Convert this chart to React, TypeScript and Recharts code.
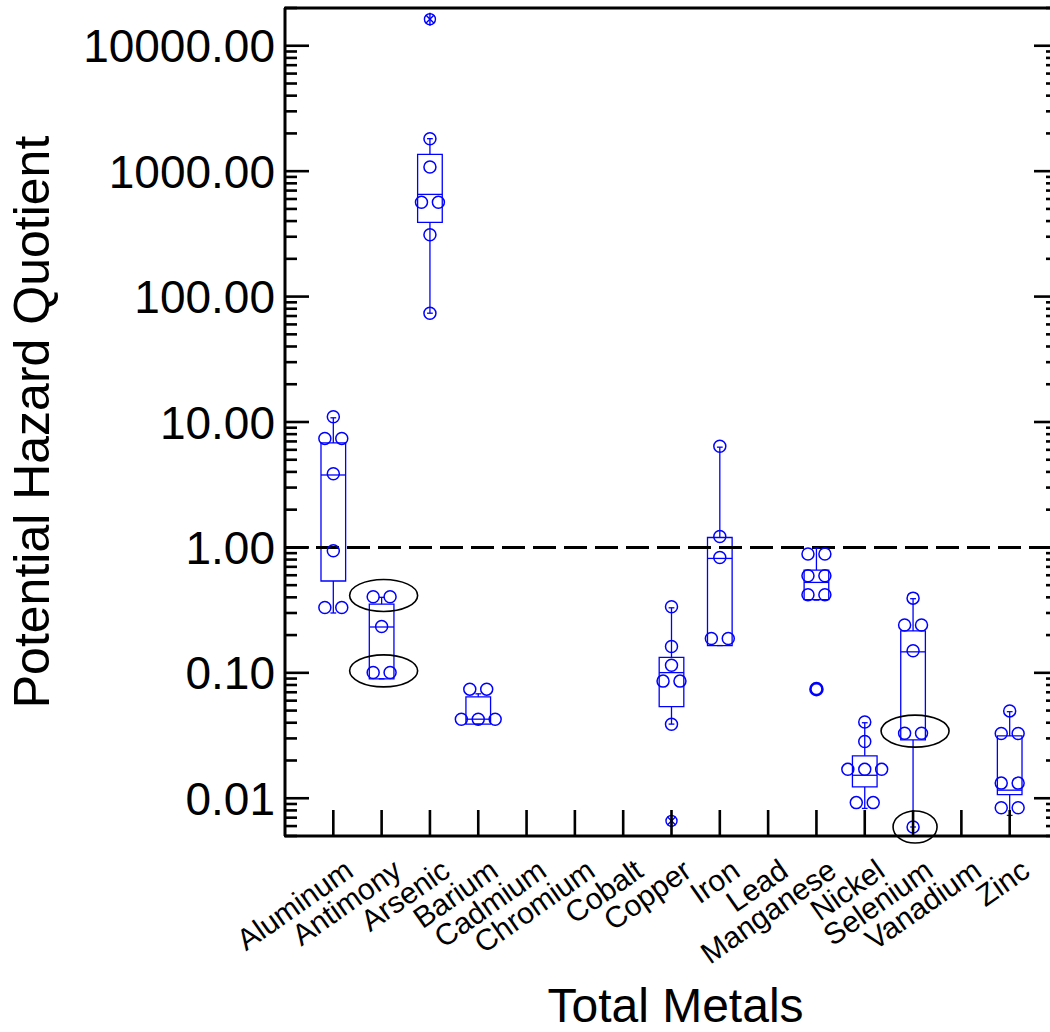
import React from 'react';
import {
  ComposedChart,
  XAxis,
  YAxis,
  Scatter,
  ReferenceArea,
  ReferenceLine,
} from 'recharts';

// ---- data -------------------------------------------------------------
const METALS = [
  'Aluminum', 'Antimony', 'Arsenic', 'Barium', 'Cadmium', 'Chromium', 'Cobalt',
  'Copper', 'Iron', 'Lead', 'Manganese', 'Nickel', 'Selenium', 'Vanadium', 'Zinc',
];

// box statistics per metal (null = not detected)
const WHISKER_LOW = [0.30, 0.0896, 73.7, 0.039, null, null, null, 0.039, 0.165, null, 0.38, 0.0083, 0.0059, null, 0.0073];
const Q1 = [0.54, 0.0896, 390, 0.039, null, null, null, 0.0538, 0.165, null, 0.383, 0.0123, 0.0292, null, 0.0107];
const MEDIAN = [3.78, 0.232, 653, 0.0427, null, null, null, 0.1004, 0.817, null, 0.526, 0.01525, 0.147, null, 0.0116];
const Q3 = [6.81, 0.353, 1361, 0.0644, null, null, null, 0.133, 1.2, null, 0.66, 0.0218, 0.216, null, 0.0314];
const WHISKER_HIGH = [10.8, 0.40, 1816, 0.068, null, null, null, 0.33, 6.3, null, 0.99, 0.040, 0.39, null, 0.049];

// individual sample quotients per metal
const ALUMINUM = [11.0, 7.4, 7.4, 3.87, 0.94, 0.332, 0.332];
const ANTIMONY = [0.404, 0.404, 0.234, 0.1005, 0.1005];
const ARSENIC = [1816, 1079, 566, 566, 311, 73.7];
const BARIUM = [0.0741, 0.0741, 0.0427, 0.0427, 0.0427];
const COPPER = [0.336, 0.162, 0.115, 0.0859, 0.0859, 0.0389];
const IRON = [6.4, 1.22, 0.83, 0.188, 0.188];
const MANGANESE = [0.885, 0.885, 0.594, 0.594, 0.42, 0.42];
const NICKEL = [0.0406, 0.0283, 0.017, 0.017, 0.017, 0.00923, 0.00923];
const SELENIUM = [0.394, 0.241, 0.241, 0.15, 0.033, 0.033, 0.0059];
const ZINC = [0.0497, 0.0328, 0.0328, 0.0132, 0.0132, 0.00841, 0.00841];

const SAMPLES: number[][] = [
  ALUMINUM, ANTIMONY, ARSENIC, BARIUM, [], [], [],
  COPPER, IRON, [], MANGANESE, NICKEL, SELENIUM, [], ZINC,
];

// extreme values and circled groups
const EXTREMES = [
  { metal: 'Arsenic', value: 16270 },
  { metal: 'Copper', value: 0.00659 },
];
const OUTLIERS = [{ metal: 'Manganese', value: 0.0741 }];
const HIGHLIGHTS = [
  { metal: 'Antimony', value: 0.414 },
  { metal: 'Antimony', value: 0.1037 },
  { metal: 'Selenium', value: 0.0343 },
  { metal: 'Selenium', value: 0.0059 },
];

const MAJOR_TICKS = [0.01, 0.1, 1, 10, 100, 1000, 10000];
const Y_DOMAIN = [0.005, 20000];
const THRESHOLD = 1;
const X_TITLE = 'Total Metals';
const Y_TITLE = 'Potential Hazard Quotient';

// ---- layout & styling -----------------------------------------------------
const CHART_W = 1070;
const CHART_H = 1032;
const MARGIN = { top: 7, right: 12, bottom: 195, left: 284 };
const PLOT_LEFT = MARGIN.left + 1;
const PLOT_RIGHT = CHART_W - MARGIN.right;
const PLOT_TOP = MARGIN.top + 1;
const PLOT_BOTTOM = CHART_H - MARGIN.bottom - 1;

const BLUE = '#0000ff';
const FONT = '"Liberation Sans", Arial, Helvetica, sans-serif';
const BOX_HALF = 0.255;
const CAP_HALF = 0.06;
const JITTER = 0.35;
const HIGHLIGHT_RX = [34, 34, 34, 22];
const HIGHLIGHT_RY = [16, 16, 16, 16];
const TICK_W = 2.6;

// ---- derived --------------------------------------------------------------
const pos = (metal: string) => METALS.indexOf(metal) + 1;

const pointData = SAMPLES.flatMap((vals, i) => {
  const groups = new Map<number, number>();
  vals.forEach((v) => groups.set(v, (groups.get(v) || 0) + 1));
  const seen = new Map<number, number>();
  return vals.map((v) => {
    const n = groups.get(v) as number;
    const k = seen.get(v) || 0;
    seen.set(v, k + 1);
    return { x: i + 1 + (k - (n - 1) / 2) * JITTER, y: v };
  });
});

const extremeData = EXTREMES.map((d) => ({ x: pos(d.metal), y: d.value }));
const outlierData = OUTLIERS.map((d) => ({ x: pos(d.metal), y: d.value }));
const highlightData = HIGHLIGHTS.map((d, i) => ({ x: pos(d.metal), y: d.value, idx: i }));

const yTicks: number[] = (() => {
  const out: number[] = [];
  for (let e = -3; e <= 4; e++) {
    for (let m = 1; m <= 9; m++) {
      const v = Number((m * Math.pow(10, e)).toPrecision(3));
      if (v >= Y_DOMAIN[0] - 1e-12 && v <= Y_DOMAIN[1]) out.push(v);
    }
  }
  return out;
})();
const isMajor = (v: number) => MAJOR_TICKS.some((t) => Math.abs(t - v) / t < 1e-6);
const xTicks = METALS.map((_, i) => i + 1);

// ---- axis renderers -------------------------------------------------------
// label plus inward frame ticks on both the left and the right edge
const LeftTick = (p: any) => {
  const y = Number(p.y);
  const v = Number(p.payload.value);
  const major = isMajor(v);
  const len = major ? 24 : 12;
  return (
    <g>
      <rect x={PLOT_LEFT - 1} y={y - TICK_W / 2} width={len + 1} height={TICK_W} fill="#000" stroke="none" />
      <rect x={PLOT_RIGHT - len} y={y - TICK_W / 2} width={len} height={TICK_W} fill="#000" stroke="none" />
      {major && (
        <text x={PLOT_LEFT - 10} y={y} dy="0.36em" textAnchor="end" fontSize={46} fontFamily={FONT} fill="#000" stroke="none">
          {v.toFixed(2)}
        </text>
      )}
    </g>
  );
};

const TopTick = (p: any) => {
  const x = Number(p.x);
  const y = Number(p.y);
  return <rect x={x - TICK_W / 2} y={y} width={TICK_W} height={26} fill="#000" stroke="none" />;
};

const BottomTick = (p: any) => {
  const x = Number(p.x);
  const y = Number(p.y);
  const name = METALS[Number(p.payload.value) - 1];
  const ax = x + 22;
  const ay = y + 39;
  return (
    <g>
      <rect x={x - TICK_W / 2} y={y - 26} width={TICK_W} height={26} fill="#000" stroke="none" />
      <text
        x={ax}
        y={ay}
        textAnchor="end"
        fontSize={30}
        fontFamily={FONT}
        fill="#000"
        stroke="none"
        transform={`rotate(-35 ${ax} ${ay})`}
      >
        {name}
      </text>
    </g>
  );
};

// ---- marks ------------------------------------------------------------------
const SampleDot = (p: any) => (
  <circle cx={p.cx} cy={p.cy} r={6} fill="none" stroke={BLUE} strokeWidth={1.5} />
);

const ExtremeMark = (p: any) => {
  const { cx, cy } = p;
  const r = 5.5;
  const d = r * 0.75;
  return (
    <g stroke={BLUE} strokeWidth={1.4} fill="none">
      <circle cx={cx} cy={cy} r={r} />
      <line x1={cx - d} y1={cy - d} x2={cx + d} y2={cy + d} />
      <line x1={cx - d} y1={cy + d} x2={cx + d} y2={cy - d} />
      <line x1={cx} y1={cy - r - 1} x2={cx} y2={cy + r + 1} />
    </g>
  );
};

const OutlierRing = (p: any) => (
  <circle cx={p.cx} cy={p.cy} r={6} fill="none" stroke={BLUE} strokeWidth={2.6} />
);

const HighlightEllipse = (p: any) => {
  const i = p.payload?.idx ?? 0;
  return (
    <ellipse cx={p.cx + 2} cy={p.cy} rx={HIGHLIGHT_RX[i]} ry={HIGHLIGHT_RY[i]} fill="none" stroke="#000" strokeWidth={1.6} />
  );
};

const boxIdx = METALS.map((_, i) => i).filter((i) => Q1[i] !== null);

const Titles = () => {
  const ycx = PLOT_LEFT - 254;
  const ycy = (PLOT_TOP + PLOT_BOTTOM) / 2;
  return (
    <svg
      width={1050}
      height={CHART_H}
      style={{ position: 'absolute', left: 0, top: 0, pointerEvents: 'none' }}
    >
      <text
        x={ycx}
        y={ycy}
        transform={`rotate(-90 ${ycx} ${ycy})`}
        textAnchor="middle"
        dy="0.36em"
        fontSize={50}
        fontFamily={FONT}
        fill="#000"
      >
        {Y_TITLE}
      </text>
      <text x={(PLOT_LEFT + PLOT_RIGHT) / 2 + 4} y={1022} textAnchor="middle" fontSize={48} fontFamily={FONT} fill="#000">
        {X_TITLE}
      </text>
    </svg>
  );
};

export default function App() {
  return (
    <div style={{ position: 'absolute', left: 0, top: 0, width: 1050, height: CHART_H, overflow: 'hidden', background: '#fff' }}>
      <ComposedChart width={CHART_W} height={CHART_H} margin={MARGIN}>
        <XAxis
          dataKey="x"
          type="number"
          domain={[0, 16]}
          ticks={xTicks}
          interval={0}
          height={1}
          tickSize={0}
          tickMargin={0}
          tickLine={false}
          tick={BottomTick}
          axisLine={{ stroke: '#000', strokeWidth: 3 }}
        />
        <XAxis
          xAxisId="top"
          orientation="top"
          dataKey="x"
          type="number"
          domain={[0, 16]}
          ticks={xTicks}
          interval={0}
          height={1}
          tickSize={0}
          tickMargin={0}
          tickLine={false}
          tick={TopTick}
          axisLine={{ stroke: '#000', strokeWidth: 3 }}
        />
        <YAxis
          dataKey="y"
          type="number"
          scale="log"
          domain={Y_DOMAIN}
          ticks={yTicks}
          interval={0}
          width={1}
          tickSize={0}
          tickMargin={0}
          tickLine={false}
          tick={LeftTick}
          axisLine={{ stroke: '#000', strokeWidth: 3 }}
        />

        <ReferenceLine y={THRESHOLD} stroke="#000" strokeWidth={3} strokeDasharray="23 8" />

        {boxIdx.map((i) => (
          <ReferenceArea
            key={`box-${i}`}
            x1={i + 1 - BOX_HALF}
            x2={i + 1 + BOX_HALF}
            y1={Q1[i] as number}
            y2={Q3[i] as number}
            fill="none"
            fillOpacity={0}
            stroke={BLUE}
            strokeWidth={1.3}
          />
        ))}
        {boxIdx.map((i) => (
          <ReferenceLine
            key={`med-${i}`}
            segment={[{ x: i + 1 - BOX_HALF, y: MEDIAN[i] as number }, { x: i + 1 + BOX_HALF, y: MEDIAN[i] as number }]}
            stroke={BLUE}
            strokeWidth={1.3}
          />
        ))}
        {boxIdx.map((i) => (
          <ReferenceLine
            key={`wh-${i}`}
            segment={[{ x: i + 1, y: Q3[i] as number }, { x: i + 1, y: WHISKER_HIGH[i] as number }]}
            stroke={BLUE}
            strokeWidth={1.3}
          />
        ))}
        {boxIdx.map((i) => (
          <ReferenceLine
            key={`wl-${i}`}
            segment={[{ x: i + 1, y: Q1[i] as number }, { x: i + 1, y: WHISKER_LOW[i] as number }]}
            stroke={BLUE}
            strokeWidth={1.3}
          />
        ))}
        {boxIdx.map((i) => (
          <ReferenceLine
            key={`ch-${i}`}
            segment={[{ x: i + 1 - CAP_HALF, y: WHISKER_HIGH[i] as number }, { x: i + 1 + CAP_HALF, y: WHISKER_HIGH[i] as number }]}
            stroke={BLUE}
            strokeWidth={1.3}
          />
        ))}
        {boxIdx.map((i) => (
          <ReferenceLine
            key={`cl-${i}`}
            segment={[{ x: i + 1 - CAP_HALF, y: WHISKER_LOW[i] as number }, { x: i + 1 + CAP_HALF, y: WHISKER_LOW[i] as number }]}
            stroke={BLUE}
            strokeWidth={1.3}
          />
        ))}

        <Scatter data={pointData} shape={SampleDot} isAnimationActive={false} />
        <Scatter data={extremeData} shape={ExtremeMark} isAnimationActive={false} />
        <Scatter data={outlierData} shape={OutlierRing} isAnimationActive={false} />
        <Scatter data={highlightData} shape={HighlightEllipse} isAnimationActive={false} />
      </ComposedChart>
      <Titles />
    </div>
  );
}
